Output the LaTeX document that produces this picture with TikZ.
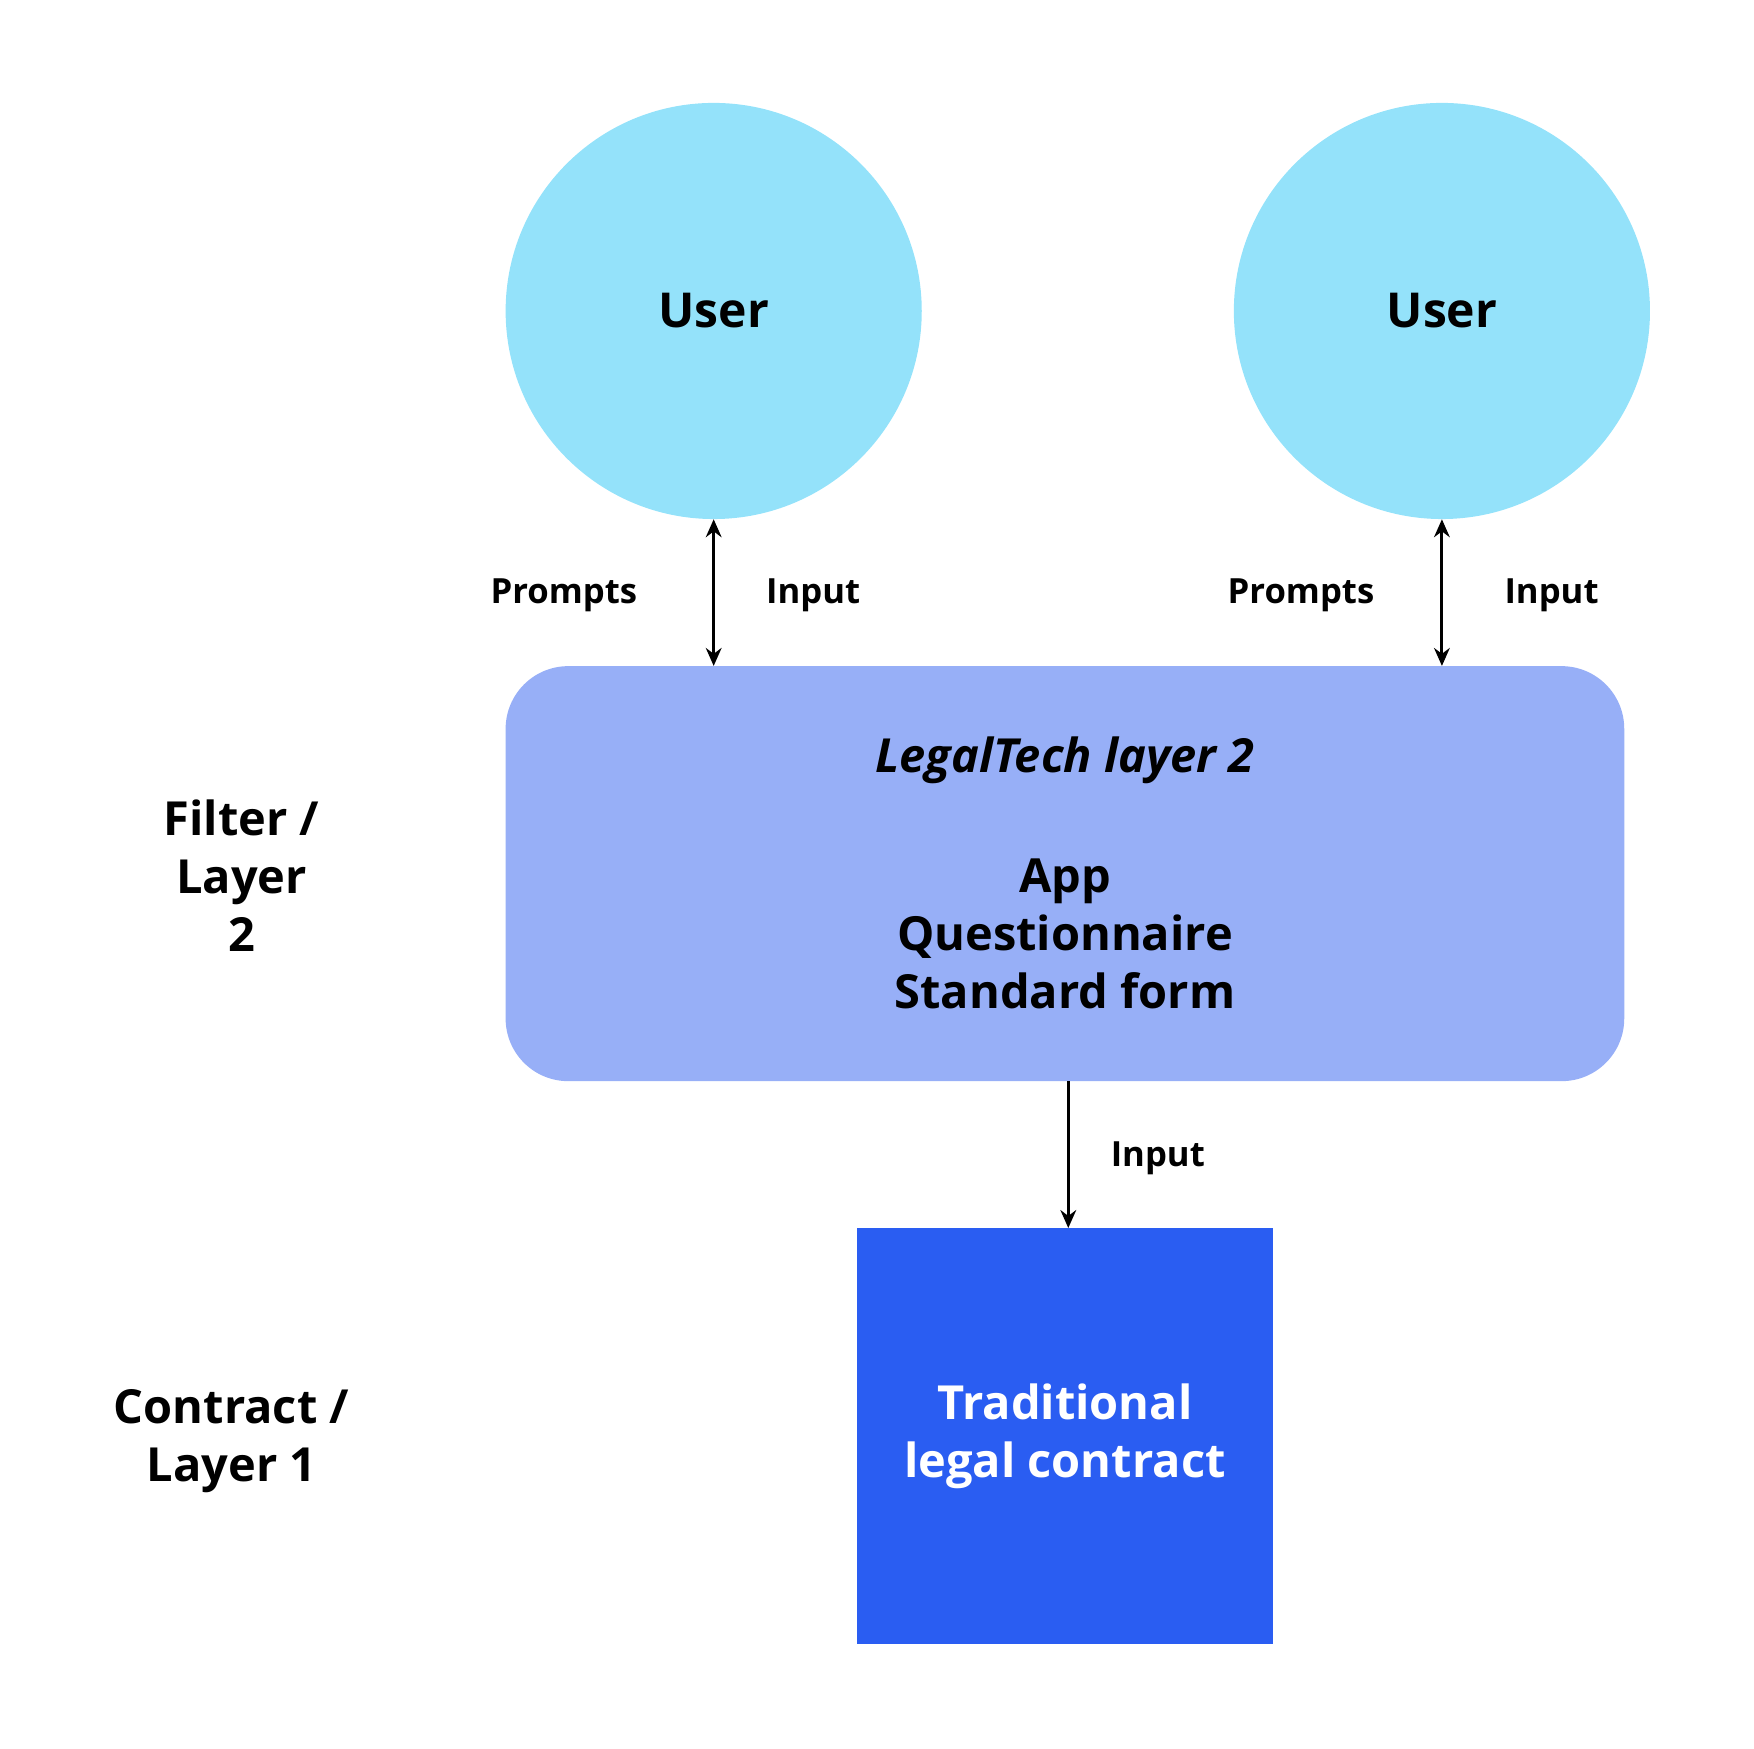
\documentclass[tikz,border=0pt]{standalone}
\usepackage{fontspec}
\setmainfont{Open Sans}
\usetikzlibrary{arrows.meta,positioning}

\definecolor{usercol}{HTML}{94E2FA}
\definecolor{filtercol}{HTML}{97AFF7}
\definecolor{contractcol}{HTML}{2A5DF2}

\tikzset{
  user/.style={circle, fill=usercol, minimum size=372pt, inner sep=0pt,
    font=\fontsize{43}{52}\selectfont\bfseries},
  layerbox/.style={rectangle, rounded corners=56pt, fill=filtercol,
    minimum width=1000pt, minimum height=371pt, inner sep=0pt},
  contractbox/.style={rectangle, fill=contractcol, minimum size=372pt,
    inner sep=0pt, text=white, align=center,
    font=\fontsize{42}{52}\selectfont\bfseries},
  biglbl/.style={align=center, font=\fontsize{42}{52}\selectfont\bfseries},
  smalllbl/.style={font=\fontsize{31}{38}\selectfont\bfseries},
  arr/.style={line width=2.8pt, -{Stealth[length=16pt,width=14pt]}},
  dblarr/.style={line width=2.8pt, {Stealth[length=16pt,width=14pt]}-{Stealth[length=16pt,width=14pt]}}
}

\begin{document}
\begin{tikzpicture}[x=1pt,y=-1pt]
    \useasboundingbox (0,0) rectangle (1568,1563);
    \node[user] (user1) at (638,278) {User};
    \node[user] (user2) at (1289,278) {User};
    \node[layerbox] (legal) at (952,781) {};
    \node[contractbox] (contract) at (952,1284) {Traditional\\legal contract};
    \node[biglbl, font=\fontsize{42}{52}\selectfont\bfseries\itshape] (legaltitle) at (952,680) {LegalTech layer 2};
    \node[biglbl] (legaltext) at (952,835) {App\\Questionnaire\\Standard form};
    \node[biglbl] (filterlbl) at (216,783) {Filter /\\Layer\\2};
    \node[biglbl] (contractlbl) at (207,1288) {Contract /\\Layer 1};
    \draw[dblarr] (user1.south) -- (user1.south |- legal.north);
    \draw[dblarr] (user2.south) -- (user2.south |- legal.north);
    \draw[arr] (legal.south -| 955,0) -- (contract.north -| 955,0);
    \node[smalllbl] (prompts1) at (504,532) {Prompts};
    \node[smalllbl] (input1) at (727,532) {Input};
    \node[smalllbl] (prompts2) at (1163,532) {Prompts};
    \node[smalllbl] (input2) at (1387,532) {Input};
    \node[smalllbl] (input3) at (1035,1035) {Input};
\end{tikzpicture}
\end{document}
